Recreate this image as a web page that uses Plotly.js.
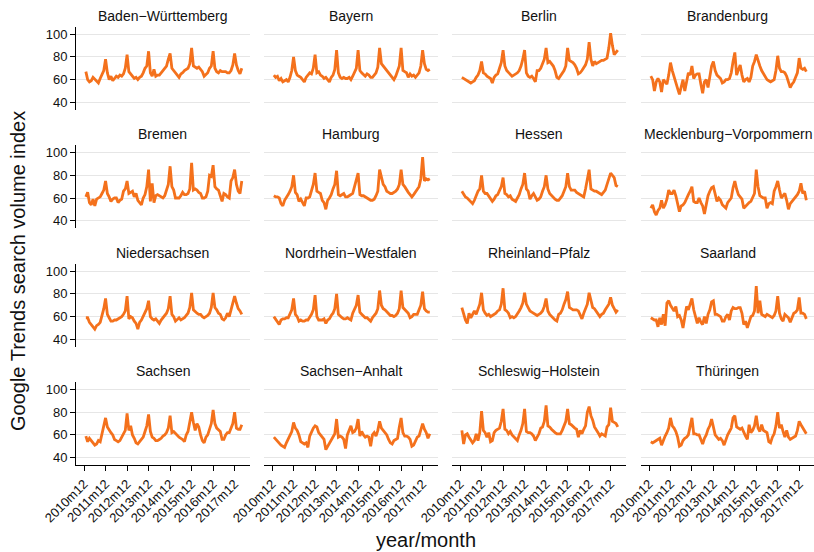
<!DOCTYPE html>
<html>
<head>
<meta charset="utf-8">
<script src="https://cdn.plot.ly/plotly-3.0.1.min.js"></script>
<style>html,body{margin:0;padding:0;background:#fff;}#chart{width:814px;height:552px;}</style>
</head>
<body>
<div id="chart"></div>
<script>
// Monthly Google Trends index, 2011m1 .. 2018m4 (88 months)
const startYear = 2011;
const tickLabels = ["2010m12","2011m12","2012m12","2013m12","2014m12","2015m12","2016m12","2017m12"];
const states = ["Baden\u2212Württemberg","Bayern","Berlin","Brandenburg",
  "Bremen","Hamburg","Hessen","Mecklenburg\u2212Vorpommern",
  "Niedersachsen","Nordrhein\u2212Westfalen","Rheinland\u2212Pfalz","Saarland",
  "Sachsen","Sachsen\u2212Anhalt","Schleswig\u2212Holstein","Thüringen"];

const badenWuerttemberg = [67,60,58,59,62,60,58,57,61,64,68,78, 66,60,63,59,61,63,62,64,63,65,70,82, 67,65,62,61,62,60,62,63,66,70,72,85, 66,63,69,63,64,64,66,68,70,72,78,83, 70,68,66,63,62,65,66,68,69,70,74,88, 72,71,70,71,69,67,63,65,66,70,72,85, 70,67,66,68,67,67,67,66,66,68,73,83, 73,68,65,70];
const bayern = [64,62,63,59,61,58,59,60,58,62,68,80, 68,64,63,62,60,58,62,64,66,65,70,82, 66,67,64,63,61,62,60,58,62,64,69,86, 66,62,61,62,61,61,62,60,63,66,70,86, 68,66,64,63,65,64,62,62,64,66,71,88, 74,72,70,68,66,64,62,60,63,67,72,88, 68,67,66,62,65,63,64,62,64,66,72,86, 74,69,68,69];
const berlin = [62,61,60,59,58,57,58,59,62,64,68,76, 66,65,63,62,61,57,62,64,65,70,75,86, 72,68,66,64,63,64,65,66,68,72,78,86, 66,63,62,63,61,58,68,68,70,74,78,88, 75,76,74,72,68,62,61,63,65,68,72,88, 77,76,75,73,70,65,66,68,70,73,78,93, 78,72,76,74,75,76,77,77,78,79,88,101, 90,82,84,86];
const brandenburg = [63,60,50,58,61,58,49,60,58,56,64,75, 68,62,58,52,47,55,60,50,58,66,64,72, 61,64,65,65,56,48,58,60,53,62,72,76, 68,64,62,61,57,58,60,60,61,66,76,84, 64,68,73,64,58,60,61,58,62,72,76,82, 76,72,68,65,62,60,59,58,59,60,68,81, 70,67,67,66,63,58,53,56,58,62,66,79, 70,69,70,67];
const bremen = [61,65,56,54,59,53,59,60,61,64,67,75, 64,61,57,59,60,60,56,58,59,66,68,75, 64,65,66,61,64,58,56,54,60,63,70,85, 57,73,56,62,63,62,61,60,62,67,72,88, 70,67,60,60,60,62,65,63,63,64,68,91, 67,68,67,65,64,60,60,61,66,80,79,89, 70,68,67,62,57,64,63,61,60,75,78,85, 72,66,64,75];
const hamburg = [62,61,61,60,55,53,58,60,63,66,70,80, 65,63,57,59,56,53,60,60,61,67,72,82, 66,65,64,58,56,50,58,60,63,68,72,84, 63,62,63,64,61,61,62,63,64,70,76,82, 63,62,62,61,60,59,58,58,59,62,66,85, 78,72,70,66,65,64,64,65,66,68,72,85, 72,70,67,65,63,61,63,65,67,70,77,96, 75,77,76,77];
const hessen = [66,63,61,60,58,56,55,58,62,66,68,80, 66,64,64,62,60,57,59,62,63,67,70,78, 64,63,61,62,59,58,57,60,63,68,72,82, 68,66,59,62,64,61,58,59,61,66,70,80, 68,64,62,61,59,58,58,60,62,66,70,82, 70,67,67,67,65,64,63,62,61,68,76,85, 68,67,66,66,65,64,63,65,67,72,78,82, 80,78,71,70];
const mecklenburgVorpommern = [51,54,48,45,49,51,58,51,54,59,67,64, 64,67,62,54,48,53,54,56,60,63,66,70, 57,56,56,60,56,53,46,55,62,66,69,70, 62,57,60,58,54,52,51,56,58,60,69,75, 68,63,61,59,51,53,54,56,57,60,64,85, 70,62,61,60,60,51,55,56,55,66,70,75, 67,60,62,64,58,50,55,57,58,61,63,66, 73,64,66,58];
const niedersachsen = [59,59,55,53,51,49,52,53,55,60,67,76, 62,59,56,56,57,57,58,59,60,62,65,78, 58,60,59,56,54,49,55,57,60,63,67,74, 60,58,57,58,56,54,57,59,61,63,67,78, 62,60,56,58,59,57,58,59,61,63,68,81, 66,64,63,62,62,60,59,60,61,63,68,81, 68,66,63,62,58,57,59,63,60,66,72,78, 72,67,65,62];
const nordrheinWestfalen = [60,58,56,53,57,58,58,59,59,62,66,76, 62,60,56,57,56,56,57,57,59,62,66,79, 60,57,57,57,58,54,57,58,61,63,67,80, 62,60,59,58,58,59,58,57,63,66,70,79, 64,62,60,59,59,57,56,59,61,63,67,83, 70,67,66,64,63,61,61,60,61,63,67,83, 68,66,64,63,59,60,62,62,62,66,70,82, 67,65,64,64];
const rheinlandPfalz = [68,62,57,54,63,59,62,65,62,66,71,81, 66,63,61,62,60,61,62,63,65,66,71,85, 66,65,63,59,60,59,60,62,65,68,72,81, 71,68,65,64,63,62,61,62,63,65,69,76, 65,62,60,59,57,56,62,63,66,71,75,82, 68,67,66,66,66,65,62,58,63,67,71,81, 75,68,67,65,62,60,62,63,66,68,71,77, 70,67,64,66];
const saarland = [59,58,57,57,51,59,53,62,52,72,74,70, 67,65,69,60,61,57,50,60,69,66,71,76, 66,60,54,59,55,53,60,54,62,66,73,74, 62,62,61,60,56,56,60,62,57,65,68,67, 67,68,68,63,53,56,50,55,60,61,65,87, 63,74,62,61,60,62,61,60,59,61,65,78, 63,58,56,62,60,59,55,59,63,64,66,77, 63,63,62,58];
const sachsen = [59,54,57,55,53,51,52,55,54,61,68,75, 67,64,62,60,56,55,54,55,58,62,64,79, 64,68,60,57,53,52,54,56,58,63,68,78, 63,58,57,55,55,56,57,59,60,62,66,77, 62,63,61,60,58,57,56,54,60,63,70,80, 71,64,70,67,60,55,53,58,60,66,70,82, 70,66,64,63,56,56,60,62,62,66,70,80, 66,65,65,69];
const sachsenAnhalt = [58,56,55,52,51,50,49,53,56,60,63,71, 66,64,60,54,53,52,53,49,59,63,66,68, 67,62,60,58,56,47,50,52,56,58,61,74, 58,59,58,56,48,60,64,68,62,63,66,74, 59,63,60,58,59,58,50,60,62,59,64,72, 66,64,62,60,56,53,52,55,56,57,67,75, 62,59,59,58,56,50,51,55,58,59,65,70, 65,62,57,61];
const schleswigHolstein = [64,52,60,61,58,56,53,55,61,55,62,81, 64,62,58,62,54,55,62,64,65,66,72,83, 65,64,61,63,60,58,57,55,60,64,70,83, 63,62,62,61,59,55,58,61,66,67,72,86, 68,67,65,63,62,61,61,61,64,68,72,83, 70,69,67,66,65,58,64,61,65,68,80,85, 77,73,67,65,62,59,61,60,59,67,69,84, 72,71,70,67];
const thueringen = [54,53,54,55,56,57,51,56,59,62,66,75, 68,66,63,58,50,51,55,57,58,60,68,75, 61,61,60,60,56,52,57,60,65,68,74,66, 60,58,56,57,55,51,56,60,63,66,75,77, 67,66,65,66,62,59,56,69,62,64,68,77, 66,63,69,64,63,62,54,53,58,61,68,80, 66,69,63,58,64,58,56,57,58,59,64,72, 69,66,64,61];

const series = [badenWuerttemberg, bayern, berlin, brandenburg, bremen, hamburg, hessen, mecklenburgVorpommern,
  niedersachsen, nordrheinWestfalen, rheinlandPfalz, saarland, sachsen, sachsenAnhalt, schleswigHolstein, thueringen];

// layout geometry (pixels)
const W = 814, H = 552;
const colLeft = [76, 264, 452, 641];
const colW = 173.5;
const rowTop = [27, 145.4, 264, 382.3];
const rowH = 83;
const lineColor = "#f4711c";
const font = "Liberation Sans, Arial, Helvetica, sans-serif";

// month index: 0 = 2011m1; tick "2010m12" = -1
const tickVals = tickLabels.map(function(t){ return (parseInt(t.slice(0,4)) - startYear) * 12 + parseInt(t.slice(5)) - 1; });

const traces = [];
const layout = {
  width: W, height: H,
  margin: {l:0, r:0, t:0, b:0},
  paper_bgcolor: "#fff", plot_bgcolor: "rgba(0,0,0,0)",
  showlegend: false, hovermode: false,
  font: {family: font, color: "#111"},
  annotations: []
};

series.forEach(function(vals, i){
  const r = Math.floor(i / 4), c = i % 4;
  const sfx = i === 0 ? "" : String(i + 1);
  const months = vals.map(function(v, k){ return k; });
  traces.push({
    type: "scatter", mode: "lines", x: months, y: vals,
    xaxis: "x" + sfx, yaxis: "y" + sfx,
    line: {color: lineColor, width: 2.8}
  });
  const x0 = colLeft[c], x1 = Math.min(W, colLeft[c] + colW);
  const top = rowTop[r], bot = rowTop[r] + rowH;
  layout["xaxis" + sfx] = {
    domain: [x0 / W, x1 / W], anchor: "y" + sfx,
    range: [-5.5, 91.3], showgrid: false, zeroline: false,
    showline: r === 3, linecolor: "#000", linewidth: 1,
    ticks: r === 3 ? "outside" : "", ticklen: 5, tickcolor: "#000", tickwidth: 1,
    tickvals: tickVals, ticktext: tickLabels,
    showticklabels: r === 3, tickangle: -45,
    tickfont: {size: 13, family: font, color: "#111"},
    automargin: false, fixedrange: true
  };
  layout["yaxis" + sfx] = {
    domain: [1 - bot / H, 1 - top / H], anchor: "x" + sfx,
    range: [33.2, 106.4], tickvals: [40, 60, 80, 100],
    showgrid: true, gridcolor: "#e6e6e6", gridwidth: 1, zeroline: false,
    showline: c === 0, linecolor: "#000", linewidth: 1,
    ticks: c === 0 ? "outside" : "", ticklen: 5, tickcolor: "#000", tickwidth: 1,
    showticklabels: c === 0,
    tickfont: {size: 13, family: font, color: "#111"},
    automargin: false, fixedrange: true
  };
  layout.annotations.push({
    text: states[i], xref: "paper", yref: "paper",
    x: (x0 + x1) / 2 / W, y: 1 - (top - 11) / H,
    xanchor: "center", yanchor: "middle", showarrow: false,
    font: {size: 14, family: font, color: "#111"}
  });
});

layout.annotations.push({
  text: "Google Trends search volume index", xref: "paper", yref: "paper",
  x: 18 / W, y: 1 - 271 / H, xanchor: "center", yanchor: "middle",
  textangle: -90, showarrow: false, font: {size: 20, family: font, color: "#111"}
});
layout.annotations.push({
  text: "year/month", xref: "paper", yref: "paper",
  x: 426 / W, y: 1 - 540 / H, xanchor: "center", yanchor: "middle",
  showarrow: false, font: {size: 20, family: font, color: "#111"}
});

Plotly.newPlot("chart", traces, layout, {staticPlot: true, displayModeBar: false});
</script>
</body>
</html>
